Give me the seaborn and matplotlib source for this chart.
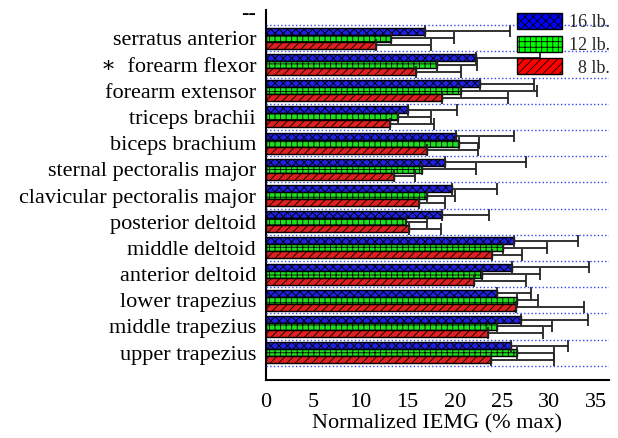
import numpy as np
import pandas as pd
import matplotlib.pyplot as plt
import seaborn as sns
from matplotlib.patches import Patch

# muscles top to bottom ("--" is an empty slot at the top)
muscles = ["--", "serratus anterior", "\u2217  forearm flexor", "forearm extensor",
           "triceps brachii", "biceps brachium", "sternal pectoralis major",
           "clavicular pectoralis major", "posterior deltoid", "middle deltoid",
           "anterior deltoid", "lower trapezius", "middle trapezius", "upper trapezius"]
loads = ["16 lb.", "12 lb.", "8 lb."]

mean_16 = [np.nan, 16.9, 22.3, 22.7, 15.1, 20.1, 19.0, 19.7, 18.7, 26.3, 26.1, 24.5, 27.0, 26.0]
mean_12 = [np.nan, 13.3, 18.1, 20.7, 14.0, 20.5, 16.5, 17.1, 14.8, 25.1, 22.9, 26.6, 24.5, 26.6]
mean_8 = [np.nan, 11.7, 15.9, 18.7, 13.2, 17.1, 13.6, 16.2, 15.2, 23.9, 22.0, 26.5, 23.5, 23.8]

sd_16 = [np.nan, 8.9, 6.7, 5.7, 5.1, 6.2, 8.5, 4.8, 4.9, 6.8, 8.1, 3.6, 7.1, 6.0]
sd_12 = [np.nan, 6.6, 4.3, 8.0, 3.5, 2.1, 5.8, 2.9, 2.3, 4.7, 6.1, 2.2, 5.8, 3.9]
sd_8 = [np.nan, 5.8, 4.8, 6.9, 4.6, 5.4, 2.2, 2.8, 3.3, 3.2, 5.5, 7.2, 5.8, 6.7]

colors = ["#0000ff", "#00ff00", "#ff0000"]
hatches = ["xxxx", "+++", "////"]

df = pd.DataFrame({
    "muscle": muscles * 3,
    "load": [l for l in loads for _ in muscles],
    "value": mean_16 + mean_12 + mean_8,
    "sd": sd_16 + sd_12 + sd_8,
})

sns.set_style("white")
plt.rcParams["font.family"] = ["Liberation Serif", "DejaVu Serif"]
plt.rcParams["hatch.linewidth"] = 0.6

fig, ax = plt.subplots(figsize=(6.18, 4.38), dpi=100)
fig.subplots_adjust(left=0.430, right=0.985, top=0.977, bottom=0.132)

sns.barplot(data=df, y="muscle", x="value", hue="load", order=muscles,
            hue_order=loads, palette=colors, orient="h", width=0.8,
            errorbar=None, edgecolor="black", linewidth=1, legend=False, ax=ax)

# hatches and one-sided error bars, placed from the drawn bars
for load, cont, h in zip(loads, ax.containers, hatches):
    sub = df[df["load"] == load].set_index("muscle")
    for bar in cont:
        w = bar.get_width()
        if np.isnan(w) or w == 0:
            continue
        bar.set_hatch(h)
        yc = bar.get_y() + bar.get_height() / 2
        name = muscles[int(round(yc))]
        ax.errorbar(w, yc, xerr=[[0], [sub.loc[name, "sd"]]], fmt="none",
                    ecolor="#222222", elinewidth=1.3, capsize=4, capthick=1.3,
                    zorder=1)

ax.set_xlim(0, 36.3)
ax.set_ylim(14.05, -0.08)
ax.set_xticks(np.arange(0, 36, 5))
ax.set_xticks(np.arange(0, 37, 1), minor=True)
ax.set_yticks(np.arange(0.5, 14, 1))
ax.set_yticklabels([])
ax.set_yticks(np.arange(0, 14, 1), minor=True)
ax.set_yticklabels(muscles, minor=True)

ax.yaxis.grid(True, which="major", color="#3344ee", linestyle=":", linewidth=1)
ax.xaxis.grid(False)
ax.set_axisbelow(False)

ax.tick_params(axis="x", which="major", direction="out", length=6, width=1.2,
               labelsize=16, colors="black")
ax.tick_params(axis="x", which="minor", direction="out", length=3, width=1)
ax.tick_params(axis="y", which="major", direction="inout", length=7, width=1.2)
ax.tick_params(axis="y", which="minor", direction="out", length=3, width=1,
               color="#888888", labelsize=16, labelcolor="black", pad=4)

for side in ["top", "right"]:
    ax.spines[side].set_visible(False)
for side in ["left", "bottom"]:
    ax.spines[side].set_color("black")
    ax.spines[side].set_linewidth(1.5)

ax.set_ylabel("")
ax.set_xlabel("Normalized IEMG (% max)", fontsize=16, color="black", labelpad=1)

handles = [Patch(facecolor=c, edgecolor="black", hatch=h, linewidth=1)
           for c, h in zip(colors, hatches)]
ax.legend(handles, ["16 lb.", "12 lb.", "  8 lb."], loc="upper right",
          bbox_to_anchor=(1.035, 1.022), frameon=False, fontsize=13,
          handlelength=2.5, handleheight=1.0, labelspacing=0.25,
          handletextpad=0.4, borderaxespad=0.2)

plt.savefig("out.png", dpi=100)
